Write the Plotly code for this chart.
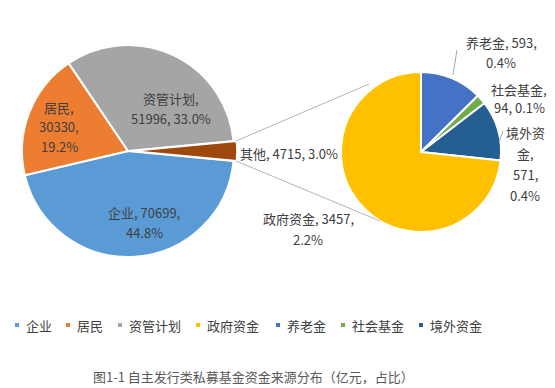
import plotly.graph_objects as go

# page body has an 8px margin; the figure is sized to the remaining view
OFF = 8
W, H = 555 - OFF, 388 - OFF

# ---- data ----
main_labels = ["企业", "居民", "资管计划", "其他"]
main_values = [70699, 30330, 51996, 4715]
main_pcts = ["44.8%", "19.2%", "33.0%", "3.0%"]

sub_labels = ["养老金", "社会基金", "境外资金", "政府资金"]
sub_values = [593, 94, 571, 3457]
sub_pcts = ["0.4%", "0.1%", "0.4%", "2.2%"]

legend_labels = ["企业", "居民", "资管计划", "政府资金", "养老金", "社会基金", "境外资金"]
title_text = "图1-1 自主发行类私募基金资金来源分布（亿元，占比）"

# ---- styles ----
colors = {
    "企业": "#5B9BD5", "居民": "#ED7D31", "资管计划": "#A5A5A5", "其他": "#9E480E",
    "政府资金": "#FFC000", "养老金": "#4472C4", "社会基金": "#70AD47", "境外资金": "#255E91",
}
FONT = "Noto Sans CJK SC, Noto Sans, sans-serif"
TXT = "#404040"


def px(x):
    return (x - OFF) / W


def py(y):
    return 1 - (y - OFF) / H


# label layout: line templates, x (px), first line y (px), line spacing, anchor
label_layout = {
    "企业": (["{l}, {v},", "{p}"], 144, 212, 21, "center"),
    "居民": (["{l},", "{v},", "{p}"], 59, 108, 19, "center"),
    "资管计划": (["{l},", "{v}, {p}"], 171, 99, 19, "center"),
    "其他": (["{l}, {v}, {p}"], 238, 153, 19, "left"),
    "养老金": (["{l}, {v},", "{p}"], 501, 42, 20, "center"),
    "社会基金": (["{l},", "{v}, {p}"], 519, 89, 19, "center"),
    "境外资金": (["{a}", "{b},", "{v},", "{p}"], 525, 132, 21, "center"),
    "政府资金": (["{l}, {v},", "{p}"], 308, 218, 21, "center"),
}

fig = go.Figure()

# main pie
pull_main = [0, 0, 0, 0.03]
cx, cy, r = 128, 151, 106
half = r * (1 + max(pull_main))
fig.add_trace(go.Pie(
    labels=main_labels, values=main_values, sort=False, direction="clockwise",
    rotation=95.4, pull=pull_main, textinfo="none", hoverinfo="skip",
    marker=dict(colors=[colors[l] for l in main_labels], line=dict(color="white", width=2)),
    domain=dict(x=[px(cx - half), px(cx + half)], y=[py(cy + half), py(cy - half)]),
    showlegend=False,
))

# sub pie
scx, scy, sr = 421, 152, 80
fig.add_trace(go.Pie(
    labels=sub_labels, values=sub_values, sort=False, direction="clockwise",
    rotation=0, textinfo="none", hoverinfo="skip",
    marker=dict(colors=[colors[l] for l in sub_labels], line=dict(color="white", width=2)),
    domain=dict(x=[px(scx - sr), px(scx + sr)], y=[py(scy + sr), py(scy - sr)]),
    showlegend=False,
))

annotations = []
shapes = []

for labels, values, pcts in [(main_labels, main_values, main_pcts), (sub_labels, sub_values, sub_pcts)]:
    for l, v, p in zip(labels, values, pcts):
        tmpl, x, y0, dy, anchor = label_layout[l]
        for i, t in enumerate(tmpl):
            s = t.format(l=l, v=v, p=p, a=l[:3], b=l[3:])
            annotations.append(dict(
                text=s, x=px(x), y=py(y0 + i * dy), xref="paper", yref="paper",
                xanchor=anchor, yanchor="middle", showarrow=False,
                font=dict(family=FONT, size=13, color=TXT),
            ))

# connector lines (pie-of-pie)
line_style = dict(color="#B4B4B4", width=1)
for (x0, y0, x1, y1) in [(236, 141, 369, 84), (236, 161, 380, 221)]:
    shapes.append(dict(type="line", xref="paper", yref="paper",
                       x0=px(x0), y0=py(y0), x1=px(x1), y1=py(y1), line=line_style))
# leader lines
for (x0, y0, x1, y1) in [(453, 75, 457, 50), (499, 142, 503, 131)]:
    shapes.append(dict(type="line", xref="paper", yref="paper",
                       x0=px(x0), y0=py(y0), x1=px(x1), y1=py(y1), line=dict(color="#A6A6A6", width=1)))

# legend
legend_text_x = [24, 75, 127, 205, 285, 350, 428]
ly = 325
for l, tx in zip(legend_labels, legend_text_x):
    mx = tx - 7
    shapes.append(dict(type="rect", xref="paper", yref="paper",
                       x0=px(mx - 2), x1=px(mx + 2), y0=py(ly + 2), y1=py(ly - 2),
                       fillcolor=colors[l], line=dict(width=0)))
    annotations.append(dict(
        text=l, x=px(tx), y=py(ly), xref="paper", yref="paper",
        xanchor="left", yanchor="middle", showarrow=False,
        font=dict(family=FONT, size=13, color=TXT),
    ))

# caption
annotations.append(dict(
    text=title_text, x=px(254), y=py(376), xref="paper", yref="paper",
    xanchor="center", yanchor="middle", showarrow=False,
    font=dict(family=FONT, size=13, color="#595959"),
))

fig.update_layout(
    width=W, height=H, margin=dict(l=0, r=0, t=0, b=0),
    paper_bgcolor="white", plot_bgcolor="white",
    annotations=annotations, shapes=shapes, showlegend=False,
)

fig.write_html("out.html")
